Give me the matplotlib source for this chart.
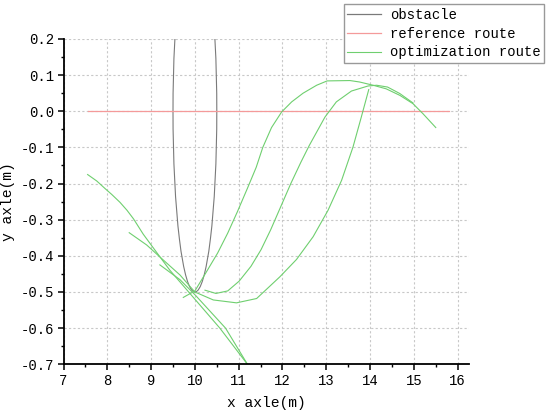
import matplotlib
matplotlib.use("Agg")
import matplotlib.pyplot as plt
from matplotlib.patches import Circle
from matplotlib.ticker import MultipleLocator, FormatStrFormatter

plt.rcParams['font.family'] = ['Liberation Mono', 'DejaVu Sans Mono']

# obstacle: circle centred on the reference route
obstacle_center = (10.0, 0.0)
obstacle_radius = 0.5

# reference route (y = 0)
ref_x = [7.55, 15.8]
ref_y = [0.0, 0.0]

# optimization routes
route1_x = [7.55, 7.76, 7.95, 8.1, 8.29, 8.45, 8.6, 8.82, 9.16, 9.43, 10.57, 11.2]
route1_y = [-0.175, -0.193, -0.214, -0.23, -0.252, -0.274, -0.298, -0.340,
            -0.396, -0.44, -0.60, -0.70]

route2_x = [8.5, 8.9, 9.2, 9.66, 10.0, 10.42, 10.95, 11.41, 11.94, 12.32,
            12.7, 13.04, 13.35, 13.61, 13.8, 13.97]
route2_y = [-0.336, -0.370, -0.403, -0.453, -0.50, -0.522, -0.530, -0.518,
            -0.458, -0.410, -0.347, -0.274, -0.191, -0.099, -0.016, 0.060]

route3_x = [9.2, 9.66, 10.02, 10.7, 11.2]
route3_y = [-0.425, -0.466, -0.51, -0.60, -0.70]

route4_x = [9.735, 10.0, 10.25, 10.52, 10.75, 10.97, 11.2, 11.4, 11.55, 11.75,
            11.98, 12.21, 12.47, 12.78, 13.02, 13.54, 13.76, 14.07, 14.37,
            14.68, 14.98, 15.21, 15.5]
route4_y = [-0.515, -0.497, -0.447, -0.392, -0.337, -0.278, -0.213, -0.155,
            -0.10, -0.045, -0.002, 0.026, 0.050, 0.072, 0.084, 0.085, 0.081,
            0.072, 0.062, 0.044, 0.021, -0.007, -0.045]

route5_x = [10.23, 10.48, 10.75, 11.01, 11.28, 11.51, 11.73, 11.96, 12.19,
            12.42, 12.61, 12.97, 13.23, 13.575, 13.955, 14.15, 14.4, 14.68, 14.98]
route5_y = [-0.495, -0.504, -0.497, -0.47, -0.429, -0.383, -0.328, -0.264,
            -0.2, -0.141, -0.095, -0.016, 0.026, 0.056, 0.070, 0.072, 0.067,
            0.049, 0.023]

routes = [(route1_x, route1_y), (route2_x, route2_y), (route3_x, route3_y),
          (route4_x, route4_y), (route5_x, route5_y)]

gray = '#7a7a7a'
pink = '#f49a9a'
green = '#6fcf6f'

fig = plt.figure(figsize=(5.5, 4.16), dpi=100)
ax = fig.add_axes([0.1155, 0.1243, 0.7365, 0.782])

ax.add_patch(Circle(obstacle_center, obstacle_radius, fill=False,
                    edgecolor=gray, linewidth=0.8))
ax.plot([], [], color=gray, linewidth=0.9, label='obstacle')
ax.plot(ref_x, ref_y, color=pink, linewidth=0.9, label='reference route')
for i, (rx, ry) in enumerate(routes):
    ax.plot(rx, ry, color=green, linewidth=0.8,
            label='optimization route' if i == 0 else None)

ax.set_xlim(7, 16.25)
ax.set_ylim(-0.7, 0.2)
ax.xaxis.set_minor_locator(MultipleLocator(0.5))
ax.yaxis.set_major_locator(MultipleLocator(0.1))
ax.yaxis.set_minor_locator(MultipleLocator(0.05))
ax.yaxis.set_major_formatter(FormatStrFormatter('%.1f'))
ax.set_xticks(range(7, 17))

for side in ['top', 'right']:
    ax.spines[side].set_visible(False)
for side in ['left', 'bottom']:
    ax.spines[side].set_linewidth(1.3)

ax.tick_params(which='major', direction='out', length=4, width=1.1, labelsize=10, pad=3)
ax.tick_params(which='minor', direction='out', length=2.5, width=1.0)
ax.grid(True, which='major', color='#c8c8c8', linestyle=(0, (2, 2)), linewidth=0.8)
ax.set_axisbelow(True)

ax.set_xlabel('x axle(m)', fontsize=10.5, labelpad=6)
ax.set_ylabel('y axle(m)', fontsize=10.5, labelpad=4)

fig.legend(loc='upper right', bbox_to_anchor=(544 / 550, 1 - 4.3 / 416),
           borderaxespad=0, fontsize=10, frameon=True, fancybox=False,
           edgecolor='#999999', framealpha=1, handlelength=2.4,
           labelspacing=0.35, borderpad=0.25, handletextpad=0.65)

fig.savefig('out.png', dpi=100)
